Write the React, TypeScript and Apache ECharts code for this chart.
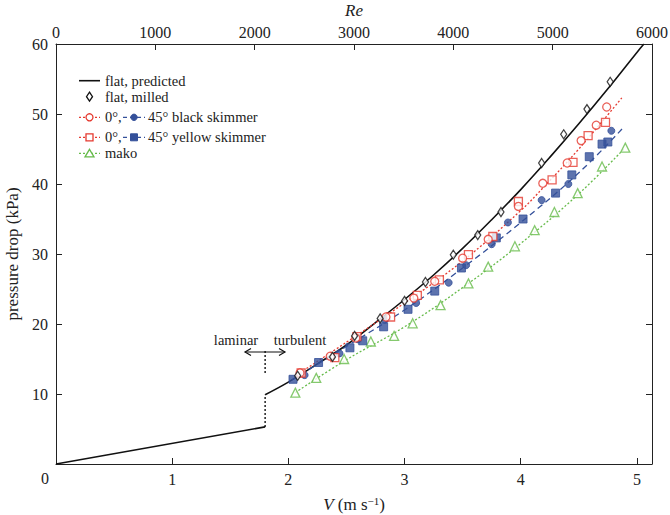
import React, { useEffect, useRef } from "react";
import * as echarts from "echarts";

// ---- data ----
const laminarV = [0, 1.8];
const laminarP = [0, 5.3];
const jumpV = [1.8, 1.8];
const jumpP = [5.3, 9.9];
const turbV = [1.8, 2.0, 2.25, 2.5, 2.75, 3.0, 3.25, 3.5, 3.75, 4.0, 4.25, 4.5, 4.75, 5.0, 5.06];
const turbP = [9.9, 11.7, 14.3, 17.0, 20.2, 23.5, 27.0, 30.8, 34.9, 39.2, 43.8, 48.6, 53.6, 58.8, 60.0];
const transitionV = [1.8, 1.8];
const transitionP = [13.0, 16.4];

const milledV = [2.08, 2.38, 2.57, 2.79, 3.0, 3.18, 3.42, 3.63, 3.83, 4.18, 4.37, 4.57, 4.77];
const milledP = [12.6, 15.3, 18.3, 20.8, 23.3, 26.0, 29.9, 32.7, 36.0, 43.0, 47.1, 50.7, 54.6];

const black0V = [2.1, 2.36, 2.58, 2.84, 3.08, 3.26, 3.5, 3.72, 3.98, 4.19, 4.4, 4.52, 4.65, 4.74];
const black0P = [13.0, 15.4, 18.0, 21.0, 23.7, 26.1, 29.4, 32.1, 36.8, 40.1, 43.0, 46.2, 48.4, 51.0];
const yellow0V = [2.11, 2.4, 2.59, 2.88, 3.11, 3.3, 3.55, 3.76, 3.98, 4.27, 4.45, 4.58, 4.73];
const yellow0P = [13.0, 15.2, 18.2, 21.0, 24.1, 26.3, 29.9, 32.5, 37.5, 40.6, 43.1, 46.9, 48.8];
const fit0V = [2.07, 2.5, 3.0, 3.5, 4.0, 4.2, 4.5, 4.88];
const fit0P = [12.7, 17.4, 23.0, 29.0, 36.2, 39.6, 45.0, 52.5];

const black45V = [2.14, 2.44, 2.6, 2.83, 3.1, 3.38, 3.53, 3.75, 3.89, 4.18, 4.41, 4.78];
const black45P = [12.7, 15.8, 17.8, 20.6, 23.0, 25.9, 28.4, 31.4, 34.5, 37.7, 40.0, 47.6];
const yellow45V = [2.04, 2.26, 2.53, 2.64, 2.82, 3.03, 3.26, 3.49, 3.79, 4.02, 4.3, 4.44, 4.59, 4.7, 4.75];
const yellow45P = [12.1, 14.5, 16.6, 17.6, 19.6, 22.1, 24.7, 28.0, 32.3, 35.0, 38.7, 41.3, 43.9, 45.7, 46.0];
const fit45V = [2.03, 2.5, 3.0, 3.5, 4.0, 4.5, 4.88];
const fit45P = [12.0, 16.8, 22.0, 28.0, 34.5, 41.6, 48.0];

const makoV = [2.06, 2.24, 2.48, 2.71, 2.91, 3.07, 3.31, 3.55, 3.72, 3.95, 4.12, 4.29, 4.49, 4.7, 4.9];
const makoP = [10.2, 12.3, 15.0, 17.5, 18.3, 20.1, 22.7, 25.8, 28.2, 31.1, 33.4, 36.0, 38.7, 42.5, 45.2];
const makoFitV = [2.06, 2.5, 3.0, 3.5, 4.0, 4.5, 4.9];
const makoFitP = [10.2, 14.9, 19.6, 25.2, 31.5, 38.6, 45.2];

const legendLabels = ["flat, predicted", "flat, milled", "0°,", "45° black skimmer", "45° yellow skimmer", "mako"];
const vTicks = [0, 1, 2, 3, 4, 5];
const reTicks = [0, 1000, 2000, 3000, 4000, 5000, 6000];

const zip = (a: number[], b: number[]) => a.map((v, i) => [v, b[i]]);

const RED = "#e5392f";
const BLUE = "#34509a";
const GREEN = "#66bb4a";
const FONT = "Liberation Serif";

export default function App() {
  const ref = useRef<HTMLDivElement>(null);
  useEffect(() => {
    if (!ref.current) return;
    const chart = echarts.init(ref.current, null, { renderer: "svg" });
    const vMax = 5.13;
    const lineSeries = (name: string, data: number[][], color: string, type: any, width = 1.5, smooth: any = false) => ({
      name,
      type: "line",
      data,
      showSymbol: false,
      symbol: "none",
      smooth,
      lineStyle: { color, width, type },
      z: 2,
      silent: true,
    });
    const scatter = (name: string, data: number[][], symbol: string, size: any, color: string, filled: boolean) => ({
      name,
      type: "scatter",
      data,
      symbol,
      symbolSize: size,
      itemStyle: filled
        ? { color, borderColor: color, borderWidth: 1 }
        : { color: "#ffffff", borderColor: color, borderWidth: 1.3 },
      z: 5,
      silent: true,
    });

    const lx0 = 79, lx1 = 100, lxm = 89.5;
    const bx0 = 123, bx1 = 145, bxm = 134;
    const rows = [80.7, 96.7, 117.3, 137.3, 153.3];
    const textStyle = (text: string, x: number, y: number) => ({
      type: "text",
      x,
      y,
      style: { text, fontFamily: FONT, fontSize: 14.5, fill: "#222", verticalAlign: "middle" },
    });
    const seg = (x0: number, x1: number, y: number, stroke: string, dash: any, w = 1.2) => ({
      type: "line",
      shape: { x1: x0, y1: y, x2: x1, y2: y },
      style: { stroke, lineWidth: w, lineDash: dash },
    });

    const option: any = {
      animation: false,
      backgroundColor: "#ffffff",
      grid: { left: 56, right: 18, top: 44, bottom: 51, containLabel: false, outerBoundsMode: "none" },
      xAxis: [
        {
          type: "value",
          position: "bottom",
          min: 0,
          max: vMax,
          interval: 1,
          name: "{i|V} (m s{sup|−1})",
          nameLocation: "middle",
          nameGap: 31,
          nameTextStyle: {
            fontFamily: FONT,
            fontSize: 17,
            color: "#222",
            rich: {
              i: { fontFamily: FONT, fontSize: 17, fontStyle: "italic", color: "#222" },
              sup: { fontFamily: FONT, fontSize: 11, color: "#222", padding: [0, 0, 8, 0] },
            },
          },
          axisLine: { show: true, onZero: false, lineStyle: { color: "#222", width: 1 } },
          axisTick: { show: true, inside: true, length: 6, lineStyle: { color: "#222" } },
          axisLabel: {
            fontFamily: FONT,
            fontSize: 16,
            color: "#222",
            margin: 7,
            formatter: (v: number) => (vTicks.includes(v) && v !== 0 ? String(v) : ""),
          },
          splitLine: { show: false },
        },
        {
          type: "value",
          position: "top",
          min: reTicks[0],
          max: reTicks[reTicks.length - 1],
          interval: 1000,
          name: "Re",
          nameLocation: "middle",
          nameGap: 20,
          nameTextStyle: { fontFamily: FONT, fontSize: 17, fontStyle: "italic", color: "#222" },
          axisLine: { show: true, onZero: false, lineStyle: { color: "#222", width: 1 } },
          axisTick: { show: true, inside: true, length: 6, lineStyle: { color: "#222" } },
          axisLabel: {
            fontFamily: FONT,
            fontSize: 16,
            color: "#222",
            margin: 4,
            showMinLabel: true,
            showMaxLabel: true,
            formatter: (v: number) => String(v),
          },
          splitLine: { show: false },
        },
      ],
      yAxis: [
        {
          type: "value",
          position: "left",
          min: 0,
          max: 60,
          interval: 10,
          name: "pressure drop (kPa)",
          nameLocation: "middle",
          nameGap: 33,
          nameRotate: 90,
          nameTextStyle: { fontFamily: FONT, fontSize: 17, color: "#222" },
          axisLine: { show: true, onZero: false, lineStyle: { color: "#222", width: 1 } },
          axisTick: { show: true, inside: true, length: 6, lineStyle: { color: "#222" } },
          axisLabel: { fontFamily: FONT, fontSize: 16, color: "#222", margin: 8, formatter: (v: number) => (v === 0 ? "" : String(v)) },
          splitLine: { show: false },
        },
        {
          type: "value",
          position: "right",
          min: 0,
          max: 60,
          interval: 10,
          axisLine: { show: true, onZero: false, lineStyle: { color: "#222", width: 1 } },
          axisTick: { show: true, inside: true, length: 6, lineStyle: { color: "#222" } },
          axisLabel: { show: false },
          splitLine: { show: false },
        },
      ],
      series: [
        lineSeries("laminar", zip(laminarV, laminarP), "#111", "solid", 1.6),
        lineSeries("jump", zip(jumpV, jumpP), "#111", [2, 2], 1.4),
        lineSeries("flat, predicted", zip(turbV, turbP), "#111", "solid", 1.6, 0.4),
        lineSeries("transition", zip(transitionV, transitionP), "#111", [2, 2], 1.4),
        lineSeries("fit 0°", zip(fit0V, fit0P), RED, [2, 2], 1.3, 0.4),
        lineSeries("fit 45°", zip(fit45V, fit45P), BLUE, [6, 4], 1.3, 0.4),
        lineSeries("fit mako", zip(makoFitV, makoFitP), GREEN, [2, 2], 1.3, 0.4),
        scatter("mako", zip(makoV, makoP), "triangle", 9, GREEN, false),
        scatter("45° yellow skimmer", zip(yellow45V, yellow45P), "rect", 8, BLUE, true),
        scatter("45° black skimmer", zip(black45V, black45P), "circle", 7, BLUE, true),
        scatter("0° yellow skimmer", zip(yellow0V, yellow0P), "rect", 8, RED, false),
        scatter("0° black skimmer", zip(black0V, black0P), "circle", 8, RED, false),
        scatter("flat, milled", zip(milledV, milledP), "diamond", [6, 9], "#111", false),
      ],
      graphic: [
        // corner zero
        { type: "text", x: 45, y: 478, style: { text: "0", fontFamily: FONT, fontSize: 16, fill: "#222", align: "center", verticalAlign: "middle" } },
        // legend
        seg(lx0, lx1, rows[0], "#111", null, 1.6),
        textStyle(legendLabels[0], 105, rows[0]),
        { type: "polygon", shape: { points: [[lxm, rows[1] - 4.5], [lxm + 3, rows[1]], [lxm, rows[1] + 4.5], [lxm - 3, rows[1]]] }, style: { fill: "#fff", stroke: "#111", lineWidth: 1.3 } },
        textStyle(legendLabels[1], 105, rows[1]),
        seg(lx0, lx1, rows[2], RED, [2, 2]),
        { type: "circle", shape: { cx: lxm, cy: rows[2], r: 3.5 }, style: { fill: "#fff", stroke: RED, lineWidth: 1.3 } },
        textStyle(legendLabels[2], 105, rows[2]),
        seg(bx0, bx1, rows[2], BLUE, [4, 3]),
        { type: "circle", shape: { cx: bxm, cy: rows[2], r: 3.2 }, style: { fill: BLUE, stroke: BLUE } },
        textStyle(legendLabels[3], 148, rows[2]),
        seg(lx0, lx1, rows[3], RED, [2, 2]),
        { type: "rect", shape: { x: lxm - 3.5, y: rows[3] - 3.5, width: 7, height: 7 }, style: { fill: "#fff", stroke: RED, lineWidth: 1.3 } },
        textStyle(legendLabels[2], 105, rows[3]),
        seg(bx0, bx1, rows[3], BLUE, [4, 3]),
        { type: "rect", shape: { x: bxm - 3.5, y: rows[3] - 3.5, width: 7, height: 7 }, style: { fill: BLUE, stroke: BLUE } },
        textStyle(legendLabels[4], 148, rows[3]),
        seg(lx0, lx1, rows[4], GREEN, [2, 2]),
        { type: "polygon", shape: { points: [[lxm, rows[4] - 4], [lxm + 4.5, rows[4] + 3.5], [lxm - 4.5, rows[4] + 3.5]] }, style: { fill: "#fff", stroke: GREEN, lineWidth: 1.3 } },
        textStyle(legendLabels[5], 105, rows[4]),
        // laminar / turbulent annotation
        { type: "text", x: 236, y: 340, style: { text: "laminar", fontFamily: FONT, fontSize: 14.5, fill: "#222", align: "center", verticalAlign: "middle" } },
        { type: "text", x: 300, y: 340, style: { text: "turbulent", fontFamily: FONT, fontSize: 14.5, fill: "#222", align: "center", verticalAlign: "middle" } },
        { type: "line", shape: { x1: 245, y1: 352, x2: 285, y2: 352 }, style: { stroke: "#111", lineWidth: 1.2 } },
        { type: "polyline", shape: { points: [[251, 348.5], [245, 352], [251, 355.5]] }, style: { stroke: "#111", lineWidth: 1.2, fill: null } },
        { type: "polyline", shape: { points: [[279, 348.5], [285, 352], [279, 355.5]] }, style: { stroke: "#111", lineWidth: 1.2, fill: null } },
      ],
    };
    chart.setOption(option);
    return () => chart.dispose();
  }, []);
  return <div ref={ref} style={{ position: "fixed", left: 0, top: 0, width: 670, height: 515, background: "#fff" }} />;
}
